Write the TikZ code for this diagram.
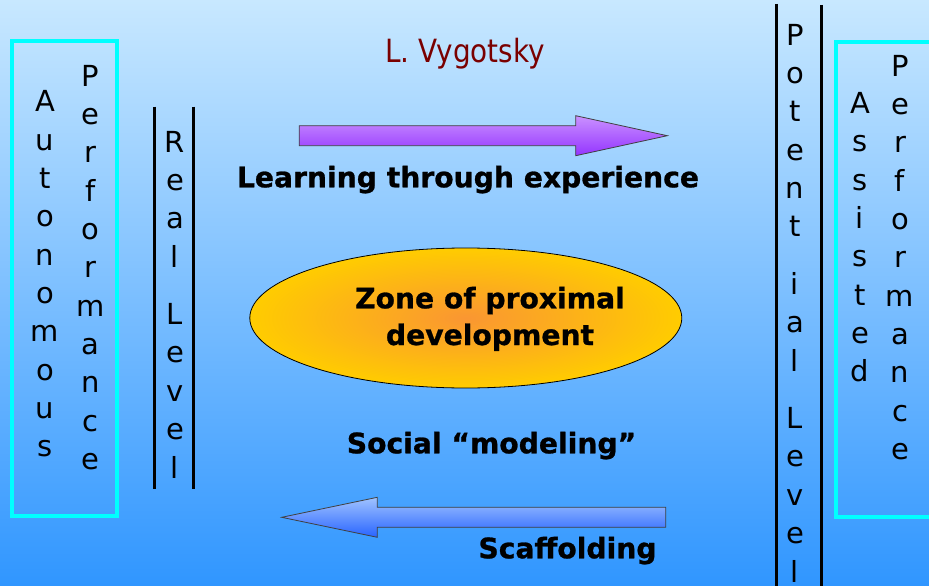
\documentclass[tikz,border=0pt]{standalone}
\usepackage{fontspec}
\setmainfont{DejaVu Sans}[BoldFeatures={FakeBold=0.9}]
\newfontfamily\narrowfont[FakeStretch=0.87]{DejaVu Sans}
\definecolor{bgtop}{RGB}{200,232,255}
\definecolor{bgbot}{RGB}{48,150,255}
\definecolor{cyanline}{RGB}{0,255,255}
\definecolor{titlered}{RGB}{122,0,0}
\definecolor{purtop}{RGB}{202,145,255}
\definecolor{purbot}{RGB}{148,52,255}
\definecolor{blutop}{RGB}{160,195,255}
\definecolor{blubot}{RGB}{40,100,255}
\definecolor{zorange}{RGB}{250,150,50}
\definecolor{zyellow}{RGB}{255,204,0}
\tikzset{
  vcol/.style={font=\fontsize{29}{38.35}\selectfont, align=center, inner sep=0pt, anchor=base},
  boldlabel/.style={font=\fontsize{28.2}{36.7}\selectfont\bfseries, inner sep=0pt, anchor=base},
  titlelabel/.style={font=\narrowfont\fontsize{32}{38}\selectfont, text=titlered, inner sep=0pt, anchor=base},
  levelline/.style={line width=3pt, black},
  perfbox/.style={draw=cyanline, line width=4pt},
  blockarrow/.style={draw=black!75, line width=0.8pt},
}
\begin{document}
\begin{tikzpicture}[x=1pt,y=-1pt]
\useasboundingbox (0,0) rectangle (929,586);
\clip (0,0) rectangle (929,586);
% background
\shade[top color=bgtop, bottom color=bgbot] (0,0) rectangle (929,586);

% title
\node[titlelabel] (author) at (465,62.7) {L. Vygotsky};

% left performance box (nodes anchored at the baseline of their last line)
\draw[perfbox] (12,41) rectangle (117,515.5);
\node[vcol] (auto) at (45,456.85) {A\\u\\t\\o\\n\\o\\m\\o\\u\\s};
\node[vcol] (perfL) at (90.7,469.5) {P\\e\\r\\f\\o\\r\\m\\a\\n\\c\\e};

% real level
\coordinate (rlTopA) at (154,106.7);
\coordinate (rlBotA) at (154,489.3);
\coordinate (rlTopB) at (193.3,106.7);
\coordinate (rlBotB) at (193.3,489.3);
\draw[levelline] (rlTopA) -- (rlBotA);
\draw[levelline] (rlTopB) -- (rlBotB);
\node[vcol] (real) at (175,478) {R\\e\\a\\l\\[19.17pt]L\\e\\v\\e\\l};

% potential level
\coordinate (plTopA) at (776,4);
\coordinate (plBotA) at (776,590);
\coordinate (plTopB) at (821,5);
\coordinate (plBotB) at (821,590);
\draw[levelline] (plTopA) -- (plBotA);
\draw[levelline] (plTopB) -- (plBotB);
\node[vcol] (poten) at (795,582) {P\\o\\t\\e\\n\\t\\[19.17pt]i\\a\\l\\[19.17pt]L\\e\\v\\e\\l};

% right performance box
\draw[perfbox] (836,42) rectangle (945,517);
\node[vcol] (assist) at (860,381.75) {A\\s\\s\\i\\s\\t\\e\\d};
\node[vcol] (perfR) at (900,459.5) {P\\e\\r\\f\\o\\r\\m\\a\\n\\c\\e};

% top arrow
\shadedraw[blockarrow, top color=purtop, bottom color=purbot]
  (299.3,125.7) -- (575.7,125.7) -- (575.7,115.7) -- (667.3,135.7)
  -- (575.7,155.7) -- (575.7,145.7) -- (299.3,145.7) -- cycle;
\node[boldlabel] (learn) at (468,187.3) {Learning through experience};

% ellipse
\shadedraw[inner color=zorange, outer color=zyellow, draw=black, line width=0.8pt]
  (465.8,318) ellipse [x radius=216, y radius=70];
\node[boldlabel] (zone1) at (490,308.3) {Zone of proximal};
\node[boldlabel] (zone2) at (490,345) {development};

% social modeling
\node[boldlabel] (social) at (491.5,453.3) {Social “modeling”};

% bottom arrow
\shadedraw[blockarrow, top color=blutop, bottom color=blubot]
  (665.7,507.3) -- (377.3,507.3) -- (377.3,497.3) -- (281.7,517.3)
  -- (377.3,537.3) -- (377.3,527.3) -- (665.7,527.3) -- cycle;
\node[boldlabel] (scaff) at (567.5,558.3) {Scaffolding};
\end{tikzpicture}
\end{document}
